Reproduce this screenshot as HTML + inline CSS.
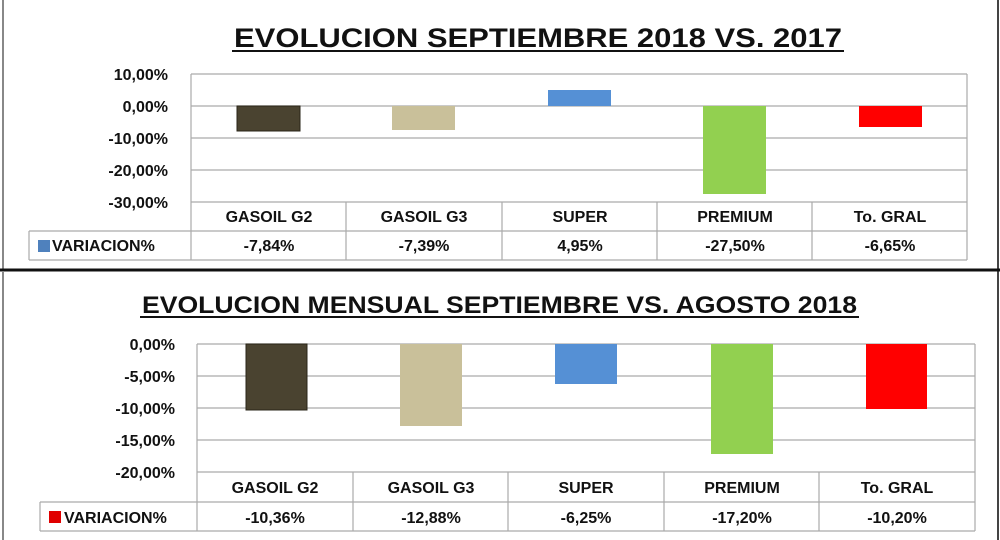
<!DOCTYPE html>
<html><head><meta charset="utf-8"><style>
html,body{margin:0;padding:0;background:#fff;}
svg{display:block;font-family:"Liberation Sans",sans-serif;font-weight:bold;}
</style></head><body>
<svg width="1000" height="540" viewBox="0 0 1000 540">
<rect width="1000" height="540" fill="#fff"/>
<line x1="3" y1="0" x2="3" y2="270" stroke="#888" stroke-width="2"/>
<line x1="998" y1="0" x2="998" y2="540" stroke="#444" stroke-width="2"/>
<line x1="0" y1="270" x2="1000" y2="270" stroke="#111" stroke-width="3"/>
<line x1="3" y1="272" x2="3" y2="540" stroke="#888" stroke-width="2"/>

<!-- TOP CHART -->
<text x="234" y="47" font-size="27" fill="#111" textLength="608" lengthAdjust="spacingAndGlyphs">EVOLUCION SEPTIEMBRE 2018 VS. 2017</text>
<line x1="232" y1="51" x2="844" y2="51" stroke="#111" stroke-width="2"/>
<g stroke="#aaa" stroke-width="1.2">
<line x1="191" y1="74" x2="967" y2="74"/><line x1="191" y1="106" x2="967" y2="106"/>
<line x1="191" y1="138" x2="967" y2="138"/><line x1="191" y1="170" x2="967" y2="170"/>
<line x1="191" y1="202" x2="967" y2="202"/><line x1="191" y1="74" x2="191" y2="260"/>
<line x1="967" y1="74" x2="967" y2="260"/>
<line x1="29" y1="231" x2="967" y2="231"/><line x1="29" y1="260" x2="967" y2="260"/>
<line x1="29" y1="231" x2="29" y2="260"/>
<line x1="346" y1="202" x2="346" y2="260"/><line x1="502" y1="202" x2="502" y2="260"/>
<line x1="657" y1="202" x2="657" y2="260"/><line x1="812" y1="202" x2="812" y2="260"/>
</g>
<g font-size="16" text-anchor="end" fill="#111">
<text x="168" y="80">10,00%</text><text x="168" y="112">0,00%</text>
<text x="168" y="144">-10,00%</text><text x="168" y="176">-20,00%</text><text x="168" y="208">-30,00%</text>
</g>
<rect x="237" y="106" width="63" height="25" fill="#4a4330" stroke="#2a2518" stroke-width="1"/>
<rect x="392" y="106" width="63" height="24" fill="#c9c09a"/>
<rect x="548" y="90" width="63" height="16" fill="#5590d5"/>
<rect x="703" y="106" width="63" height="88" fill="#92d050"/>
<rect x="859" y="106" width="63" height="21" fill="#ff0000"/>
<g font-size="16" text-anchor="middle" fill="#111">
<text x="269" y="222">GASOIL G2</text><text x="424" y="222">GASOIL G3</text>
<text x="580" y="222">SUPER</text><text x="735" y="222">PREMIUM</text><text x="890" y="222">To. GRAL</text>
<text x="269" y="251">-7,84%</text><text x="424" y="251">-7,39%</text>
<text x="580" y="251">4,95%</text><text x="735" y="251">-27,50%</text><text x="890" y="251">-6,65%</text>
</g>
<rect x="38" y="240" width="12" height="12" fill="#4f81bd"/>
<text x="52" y="251" font-size="16" fill="#111">VARIACION%</text>

<!-- BOTTOM CHART -->
<text x="142" y="313" font-size="24" fill="#111" textLength="715" lengthAdjust="spacingAndGlyphs">EVOLUCION MENSUAL  SEPTIEMBRE  VS. AGOSTO 2018</text>
<line x1="140" y1="317" x2="859" y2="317" stroke="#111" stroke-width="2"/>
<g stroke="#aaa" stroke-width="1.2">
<line x1="197" y1="344" x2="975" y2="344"/><line x1="197" y1="376" x2="975" y2="376"/>
<line x1="197" y1="408" x2="975" y2="408"/><line x1="197" y1="440" x2="975" y2="440"/>
<line x1="197" y1="472" x2="975" y2="472"/><line x1="197" y1="344" x2="197" y2="531"/>
<line x1="975" y1="344" x2="975" y2="531"/>
<line x1="40" y1="502" x2="975" y2="502"/><line x1="40" y1="531" x2="975" y2="531"/>
<line x1="40" y1="502" x2="40" y2="531"/>
<line x1="353" y1="472" x2="353" y2="531"/><line x1="508" y1="472" x2="508" y2="531"/>
<line x1="664" y1="472" x2="664" y2="531"/><line x1="819" y1="472" x2="819" y2="531"/>
</g>
<g font-size="16" text-anchor="end" fill="#111">
<text x="175" y="350">0,00%</text><text x="175" y="382">-5,00%</text>
<text x="175" y="414">-10,00%</text><text x="175" y="446">-15,00%</text><text x="175" y="478">-20,00%</text>
</g>
<rect x="246" y="344" width="61" height="66" fill="#4a4330" stroke="#2a2518" stroke-width="1"/>
<rect x="400" y="344" width="62" height="82" fill="#c9c09a"/>
<rect x="555" y="344" width="62" height="40" fill="#5590d5"/>
<rect x="711" y="344" width="62" height="110" fill="#92d050"/>
<rect x="866" y="344" width="61" height="65" fill="#ff0000"/>
<g font-size="16" text-anchor="middle" fill="#111">
<text x="275" y="493">GASOIL G2</text><text x="431" y="493">GASOIL G3</text>
<text x="586" y="493">SUPER</text><text x="742" y="493">PREMIUM</text><text x="897" y="493">To. GRAL</text>
<text x="275" y="523">-10,36%</text><text x="431" y="523">-12,88%</text>
<text x="586" y="523">-6,25%</text><text x="742" y="523">-17,20%</text><text x="897" y="523">-10,20%</text>
</g>
<rect x="49" y="511" width="12" height="12" fill="#e00000"/>
<text x="64" y="523" font-size="16" fill="#111">VARIACION%</text>
</svg>
</body></html>
